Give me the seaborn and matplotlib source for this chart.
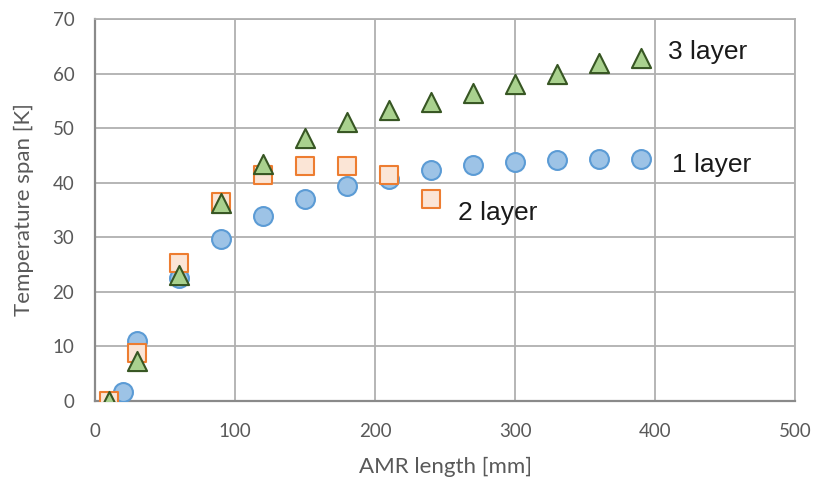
import numpy as np
import pandas as pd
import matplotlib.pyplot as plt
import seaborn as sns

# AMR length [mm] and temperature span [K]
len_1 = [20, 30, 60, 90, 120, 150, 180, 210, 240, 270, 300, 330, 360, 390]
span_1 = [1.6, 10.9, 22.6, 29.6, 33.9, 37.0, 39.4, 40.7, 42.4, 43.3, 43.9, 44.1, 44.3, 44.3]

len_2 = [10, 30, 60, 90, 120, 150, 180, 210, 240]
span_2 = [0.0, 8.8, 25.3, 36.4, 41.4, 43.1, 43.1, 41.4, 37.1]

len_3 = [10, 30, 60, 90, 120, 150, 180, 210, 240, 270, 300, 330, 360, 390]
span_3 = [0.0, 7.3, 23.0, 36.2, 43.5, 48.2, 51.1, 53.3, 54.9, 56.4, 58.1, 60.0, 62.0, 62.9]

labels = ["1 layer", "2 layer", "3 layer"]
label_pos = [(412, 43.2), (259, 34.4), (409, 64.0)]

sns.set_style("white")
plt.rcParams['font.family'] = ['Lato', 'DejaVu Sans']

fig = plt.figure(figsize=(8.13, 4.79), dpi=100)
ax = fig.add_axes([0.117, 0.163, 0.861, 0.797])

sns.scatterplot(x=len_1, y=span_1, ax=ax, marker='o', s=185,
                color='#9DC3E6', edgecolor='#5B9BD5', linewidth=1.5, zorder=3)
sns.scatterplot(x=len_2, y=span_2, ax=ax, marker='s', s=165,
                color='#FBE5D6', edgecolor='#ED7D31', linewidth=1.5, zorder=4)
sns.scatterplot(x=len_3, y=span_3, ax=ax, marker='^', s=190,
                color='#A9D18E', edgecolor='#375623', linewidth=1.5, zorder=5)

for lab, (x, y) in zip(labels, label_pos):
    ax.text(x, y, lab, fontsize=19, color='#1a1a1a', va='center', ha='left',
            family=['Liberation Sans', 'DejaVu Sans'])

ax.set_xlim(0, 500)
ax.set_ylim(0, 70)
ax.set_xticks(range(0, 501, 100))
ax.set_yticks(range(0, 71, 10))
ax.grid(True, color='#b0b0b0', linewidth=1.3)
ax.set_axisbelow(True)
for side in ['top', 'right']:
    ax.spines[side].set_color('#b0b0b0')
    ax.spines[side].set_linewidth(1.3)
for side in ['left', 'bottom']:
    ax.spines[side].set_color('#8a8a8a')
    ax.spines[side].set_linewidth(1.6)

ax.tick_params(axis='both', length=0, labelsize=13.5, colors='#595959')
ax.tick_params(axis='x', pad=16)
ax.tick_params(axis='y', pad=15)
ax.set_xlabel('AMR length [mm]', fontsize=16, color='#595959', labelpad=12)
ax.set_ylabel('Temperature span [K]', fontsize=16, color='#595959', labelpad=13)

fig.savefig('out.png', dpi=100)
